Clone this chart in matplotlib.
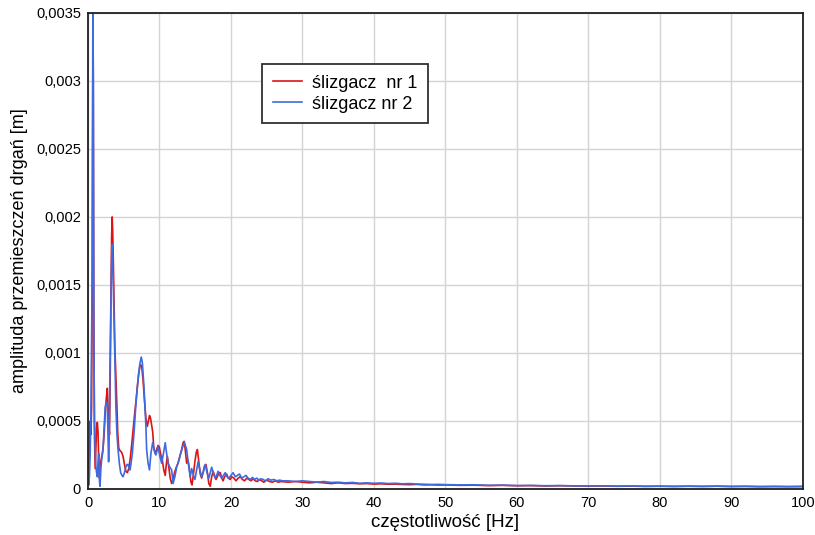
import numpy as np
import matplotlib
matplotlib.use('Agg')
import matplotlib.pyplot as plt
from matplotlib.ticker import FuncFormatter, MultipleLocator

plt.rcParams['font.family'] = ['Liberation Sans', 'DejaVu Sans']

# amplitude values are given in units of 1e-4 m, (frequency [Hz], amplitude)
slizgacz_1 = [
    (0.0, 0.6), (0.1, 1.5), (0.2, 3.5), (0.3, 5.0), (0.4, 4.0), (0.5, 6.0),
    (0.6, 16.0), (0.7, 36.0), (0.8, 14.0), (0.9, 4.0), (1.0, 1.5), (1.1, 3.0),
    (1.2, 4.5), (1.3, 4.9), (1.4, 4.2), (1.5, 2.0), (1.6, 0.8), (1.7, 1.8),
    (1.85, 2.2), (2.0, 2.6), (2.1, 3.0), (2.25, 4.0), (2.4, 5.5), (2.55, 6.6),
    (2.7, 7.4), (2.8, 6.0), (2.9, 4.8), (3.0, 4.0), (3.1, 8.0), (3.2, 14.0),
    (3.3, 18.5), (3.38, 20.0), (3.45, 19.0), (3.55, 16.5), (3.65, 13.5),
    (3.75, 10.5), (3.85, 9.0), (3.95, 7.5), (4.05, 6.0), (4.15, 4.2), (4.3, 3.0),
    (4.5, 2.8), (4.7, 2.7), (4.9, 2.4), (5.1, 1.8), (5.3, 1.3), (5.5, 1.2),
    (5.7, 1.5), (5.9, 2.2), (6.1, 3.2), (6.3, 4.3), (6.5, 5.4), (6.7, 6.4),
    (6.9, 7.5), (7.1, 8.5), (7.3, 9.1), (7.5, 9.1), (7.7, 8.0), (7.9, 6.5),
    (8.1, 5.2), (8.3, 4.6), (8.45, 5.0), (8.6, 5.4), (8.75, 5.2), (8.9, 4.7),
    (9.05, 4.2), (9.2, 3.0), (9.4, 2.6), (9.6, 2.9), (9.8, 3.2), (9.97, 3.1),
    (10.15, 2.6), (10.4, 2.1), (10.6, 1.4), (10.8, 1.0), (10.95, 1.8), (11.1, 2.4),
    (11.3, 1.6), (11.5, 0.8), (11.7, 0.4), (11.9, 0.7), (12.1, 1.2), (12.35, 1.6),
    (12.6, 1.9), (12.85, 2.4), (13.1, 2.9), (13.3, 3.4), (13.45, 3.5), (13.6, 2.9),
    (13.8, 1.9), (14.0, 2.1), (14.2, 1.4), (14.4, 0.5), (14.55, 0.3), (14.75, 1.1),
    (14.95, 2.0), (15.15, 2.7), (15.3, 2.9), (15.5, 2.0), (15.7, 1.1), (15.9, 0.8),
    (16.1, 1.2), (16.3, 1.7), (16.5, 1.8), (16.7, 1.2), (16.9, 0.4), (17.1, 0.2),
    (17.3, 0.9), (17.5, 1.3), (17.7, 1.0), (17.9, 0.7), (18.1, 0.9), (18.3, 1.2),
    (18.5, 1.2), (18.7, 0.8), (18.9, 0.6), (19.1, 0.9), (19.4, 1.1), (19.6, 0.8),
    (19.9, 0.7), (20.1, 0.9), (20.4, 0.8), (20.7, 0.6), (21.0, 0.8), (21.3, 0.9),
    (21.6, 0.7), (21.9, 0.6), (22.2, 0.8), (22.5, 0.7), (22.8, 0.6), (23.1, 0.75),
    (23.4, 0.6), (23.7, 0.55), (24.0, 0.7), (24.3, 0.6), (24.6, 0.5), (25.0, 0.65),
    (25.4, 0.55), (25.8, 0.5), (26.2, 0.6), (26.6, 0.5), (27.0, 0.55), (28, 0.5),
    (29, 0.55), (30, 0.5), (31, 0.45), (32, 0.5), (33, 0.45), (34, 0.4),
    (35, 0.45), (36, 0.4), (37, 0.42), (38, 0.38), (39, 0.4), (40, 0.36),
    (41, 0.38), (42, 0.35), (43, 0.36), (44, 0.33), (45, 0.32), (46, 0.34),
    (47, 0.3), (48, 0.31), (49, 0.29), (50, 0.3), (52, 0.27), (54, 0.28),
    (56, 0.25), (58, 0.27), (60, 0.24), (62, 0.25), (64, 0.22), (66, 0.24),
    (68, 0.22), (70, 0.21), (72, 0.22), (74, 0.2), (76, 0.21), (78, 0.19),
    (80, 0.2), (82, 0.18), (84, 0.2), (86, 0.19), (88, 0.21), (90, 0.18),
    (92, 0.19), (94, 0.17), (96, 0.18), (98, 0.17), (100, 0.18),
]

slizgacz_2 = [
    (0.0, 0.9), (0.1, 0.3), (0.2, 1.0), (0.3, 2.6), (0.4, 5.5), (0.5, 10.7),
    (0.58, 15.6), (0.68, 35.5), (0.75, 30.0), (0.82, 11.0), (0.9, 5.0), (1.0, 2.9),
    (1.1, 1.6), (1.2, 1.2), (1.3, 0.9), (1.4, 2.0), (1.5, 2.6), (1.6, 0.6),
    (1.68, 0.2), (1.8, 1.5), (1.9, 2.1), (2.1, 2.9), (2.25, 4.5), (2.4, 6.0),
    (2.55, 6.4), (2.7, 6.2), (2.8, 4.0), (2.88, 2.0), (2.95, 3.5), (3.05, 8.0),
    (3.17, 12.0), (3.27, 16.0), (3.36, 18.0), (3.45, 17.0), (3.54, 15.0),
    (3.64, 12.5), (3.73, 10.2), (3.82, 8.0), (3.9, 6.0), (4.05, 4.0), (4.2, 2.9),
    (4.4, 1.8), (4.57, 1.2), (4.75, 1.0), (4.9, 0.9), (5.1, 1.2), (5.27, 1.6),
    (5.45, 1.8), (5.6, 1.8), (5.75, 1.5), (5.87, 1.4), (6.0, 1.8), (6.2, 2.6),
    (6.45, 4.2), (6.67, 6.0), (6.85, 7.2), (7.04, 8.3), (7.25, 9.2), (7.45, 9.7),
    (7.6, 9.3), (7.83, 7.5), (7.97, 6.0), (8.1, 4.6), (8.2, 2.9), (8.4, 1.9),
    (8.6, 1.4), (8.8, 2.6), (9.04, 3.4), (9.25, 2.9), (9.5, 2.5), (9.8, 3.1),
    (10.05, 2.4), (10.3, 1.9), (10.55, 2.6), (10.8, 3.4), (11.0, 2.6), (11.2, 1.9),
    (11.45, 1.6), (11.7, 1.4), (11.9, 0.4), (12.15, 0.9), (12.4, 1.6), (12.7, 2.1),
    (12.96, 2.6), (13.25, 3.1), (13.5, 3.4), (13.8, 2.9), (14.05, 1.8), (14.3, 0.9),
    (14.5, 1.5), (14.75, 1.0), (14.96, 0.7), (15.2, 1.4), (15.4, 2.0), (15.65, 1.4),
    (15.9, 0.9), (16.15, 1.3), (16.4, 1.8), (16.65, 1.2), (16.9, 0.8), (17.1, 1.2),
    (17.3, 1.6), (17.55, 1.1), (17.8, 0.8), (18.0, 1.0), (18.2, 1.3), (18.45, 1.0),
    (18.7, 0.8), (18.95, 1.0), (19.2, 1.2), (19.45, 0.9), (19.7, 0.8), (20.0, 1.0),
    (20.3, 1.2), (20.6, 0.9), (20.9, 1.0), (21.2, 1.1), (21.5, 0.8), (21.8, 0.9),
    (22.1, 1.0), (22.4, 0.8), (22.7, 0.7), (23.0, 0.85), (23.3, 0.7), (23.6, 0.8),
    (23.9, 0.65), (24.2, 0.75), (24.5, 0.7), (24.8, 0.6), (25.2, 0.75), (25.6, 0.65),
    (26.0, 0.7), (26.4, 0.6), (26.8, 0.65), (27.2, 0.6), (28, 0.6), (29, 0.55),
    (30, 0.6), (31, 0.55), (32, 0.5), (33, 0.55), (34, 0.48), (35, 0.5),
    (36, 0.45), (37, 0.48), (38, 0.42), (39, 0.45), (40, 0.42), (41, 0.44),
    (42, 0.4), (43, 0.42), (44, 0.38), (45, 0.4), (46, 0.36), (47, 0.35),
    (48, 0.33), (49, 0.34), (50, 0.32), (52, 0.3), (54, 0.31), (56, 0.27),
    (58, 0.28), (60, 0.25), (62, 0.26), (64, 0.24), (66, 0.25), (68, 0.23),
    (70, 0.22), (72, 0.23), (74, 0.21), (76, 0.22), (78, 0.2), (80, 0.21),
    (82, 0.2), (84, 0.21), (86, 0.19), (88, 0.2), (90, 0.19), (92, 0.2),
    (94, 0.18), (96, 0.19), (98, 0.18), (100, 0.19),
]

labels = ['ślizgacz  nr 1', 'ślizgacz nr 2']
colours = ['#dd1414', '#3f6ae0']

fig = plt.figure(figsize=(8.15, 5.35), dpi=100)
ax = fig.add_axes((0.108, 0.086, 0.877, 0.89))

for data, label, colour in zip([slizgacz_1, slizgacz_2], labels, colours):
    f, a = np.array(data).T
    ax.plot(f, a * 1e-4, c=colour, lw=1.2, label=label)

ax.set_xlim(0, 100)
ax.set_ylim(0, 0.0035)
ax.xaxis.set_major_locator(MultipleLocator(10))
ax.yaxis.set_major_locator(MultipleLocator(0.0005))
ax.yaxis.set_major_formatter(FuncFormatter(lambda v, p: f'{v:g}'.replace('.', ',')))
ax.tick_params(length=0, labelsize=10.5, pad=5)
ax.grid(True, color='#d4d4d4', lw=1)
ax.set_axisbelow(True)
for s in ax.spines.values():
    s.set_color('#202020')
    s.set_linewidth(1.3)

ax.set_xlabel('częstotliwość [Hz]', fontsize=13.5, labelpad=3)
ax.set_ylabel('amplituda przemieszczeń drgań [m]', fontsize=13, labelpad=6)

leg = ax.legend(loc='upper left', bbox_to_anchor=(0.2434, 0.893), fontsize=13,
                fancybox=False, framealpha=1, edgecolor='#303030',
                handlelength=1.6, handletextpad=0.55, labelspacing=0.22,
                borderpad=0.6, borderaxespad=0)
leg.get_frame().set_linewidth(1.3)

fig.savefig('out.png', dpi=100)
